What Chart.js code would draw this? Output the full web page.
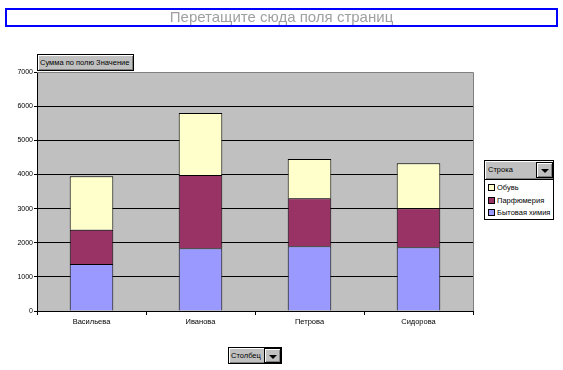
<!DOCTYPE html>
<html>
<head>
<meta charset="utf-8">
<script src="https://cdn.jsdelivr.net/npm/chart.js@4.4.1/dist/chart.umd.min.js"></script>
<style>
  html, body { margin: 0; padding: 0; background: #fff; }
  body { width: 563px; height: 370px; position: relative; overflow: hidden; font-family: "Liberation Sans", Arial, sans-serif; }
  #c { position: absolute; left: 0; top: 0; }
  .banner { position: absolute; left: 5px; top: 8px; width: 549px; height: 15px; border: 2px solid #0000FF; color: #A0A0A0; font-size: 15px; line-height: 13px; text-align: center; }
  .btn { position: absolute; background: #C0C0C0; border: 1px solid #000; box-shadow: inset 1px 1px 0 #fff, inset -1px -1px 0 #808080; font-size: 7.5px; color: #000; box-sizing: border-box; white-space: nowrap; }
  .drop { position: absolute; background: #C0C0C0; border: 1px solid #000; box-shadow: inset 1px 1px 0 #fff, inset -1px -1px 0 #808080; box-sizing: border-box; }
  .drop::after { content: ""; position: absolute; left: 50%; top: 50%; margin-left: -4px; margin-top: -1px; border-left: 4px solid transparent; border-right: 4px solid transparent; border-top: 4px solid #000; }
  .legbox { position: absolute; left: 484px; top: 179px; width: 70px; height: 41px; background: #fff; border: 1px solid #000; box-sizing: border-box; }
  .item { position: absolute; left: 3px; font-size: 7.5px; white-space: nowrap; }
  .sw { display: inline-block; width: 5px; height: 5px; border: 1px solid #000; vertical-align: -1px; margin-right: 2px; }
</style>
</head>
<body>
<canvas id="c" width="563" height="370"></canvas>
<div class="banner">Перетащите сюда поля страниц</div>
<div class="btn" style="left:37px;top:54px;width:97px;height:17px;line-height:15px;padding-left:2px;">Сумма по полю Значение</div>
<div class="btn" style="left:484px;top:160px;width:70px;height:20px;line-height:17px;padding-left:3px;">Строка</div>
<div class="drop" style="left:536px;top:162px;width:17px;height:16px;"></div>
<div class="legbox" id="legbox"></div>
<div class="btn" style="left:228px;top:347px;width:54px;height:17px;line-height:15px;padding-left:2px;">Столбец</div>
<div class="drop" style="left:264px;top:348px;width:17px;height:15px;"></div>
<script>
const categories = ["Васильева", "Иванова", "Петрова", "Сидорова"];
const seriesNames = ["Бытовая химия", "Парфюмерия", "Обувь"];
const household = [1380, 1840, 1900, 1870];
const perfume = [1000, 2140, 1405, 1140];
const shoes = [1570, 1820, 1145, 1320];
const yTicks = [0, 1000, 2000, 3000, 4000, 5000, 6000, 7000];
const colors = ["#9999FF", "#993366", "#FFFFCC"];

const seriesValues = [household, perfume, shoes];

// legend (top item first, as in the reference)
const legbox = document.getElementById('legbox');
[2, 1, 0].forEach((si, row) => {
  const d = document.createElement('div');
  d.className = 'item';
  d.style.top = (3 + row * 12.5) + 'px';
  d.innerHTML = '<span class="sw" style="background:' + colors[si] + '"></span>' + seriesNames[si];
  legbox.appendChild(d);
});

const plotBg = {
  id: 'plotBg',
  beforeDraw(chart) {
    const a = chart.chartArea, ctx = chart.ctx;
    ctx.save();
    ctx.fillStyle = '#C0C0C0';
    ctx.fillRect(a.left, a.top, a.right - a.left, a.bottom - a.top);
    ctx.restore();
  },
  afterDatasetsDraw(chart) {
    const a = chart.chartArea, ctx = chart.ctx;
    ctx.save();
    ctx.strokeStyle = '#808080';
    ctx.lineWidth = 1;
    ctx.beginPath();
    ctx.moveTo(a.left, Math.round(a.top) + 0.5);
    ctx.lineTo(Math.round(a.right) + 0.5, Math.round(a.top) + 0.5);
    ctx.lineTo(Math.round(a.right) + 0.5, a.bottom);
    ctx.stroke();
    ctx.restore();
  }
};

new Chart(document.getElementById('c'), {
  type: 'bar',
  data: {
    labels: categories,
    datasets: seriesValues.map((vals, i) => ({
      label: seriesNames[i],
      data: vals,
      backgroundColor: colors[i],
      borderColor: '#000',
      borderWidth: 1,
      categoryPercentage: 1,
      barPercentage: 0.4
    }))
  },
  options: {
    responsive: false,
    animation: false,
    devicePixelRatio: 1,
    layout: { padding: { left: 0, top: 72, right: 90, bottom: 0 } },
    plugins: { legend: { display: false }, tooltip: { enabled: false } },
    scales: {
      x: {
        stacked: true,
        afterFit(s) { s.height = 59; },
        grid: { offset: true, drawOnChartArea: false, color: '#000', tickLength: 4 },
        border: { color: '#000', width: 1 },
        ticks: { color: '#000', font: { family: 'Liberation Sans', size: 7.5 }, padding: 2, maxRotation: 0 }
      },
      y: {
        stacked: true,
        min: 0,
        max: 7000,
        afterFit(s) { s.width = 37; },
        afterBuildTicks(s) { s.ticks = yTicks.map(v => ({ value: v })); },
        grid: {
          color: (c) => (c.tick && c.tick.value === 7000) ? '#808080' : '#000',
          tickColor: '#000',
          tickLength: 3
        },
        border: { color: '#000', width: 1 },
        ticks: { color: '#000', font: { family: 'Liberation Sans', size: 7 }, padding: 1, callback: (v) => String(v) }
      }
    }
  },
  plugins: [plotBg]
});
</script>
</body>
</html>
